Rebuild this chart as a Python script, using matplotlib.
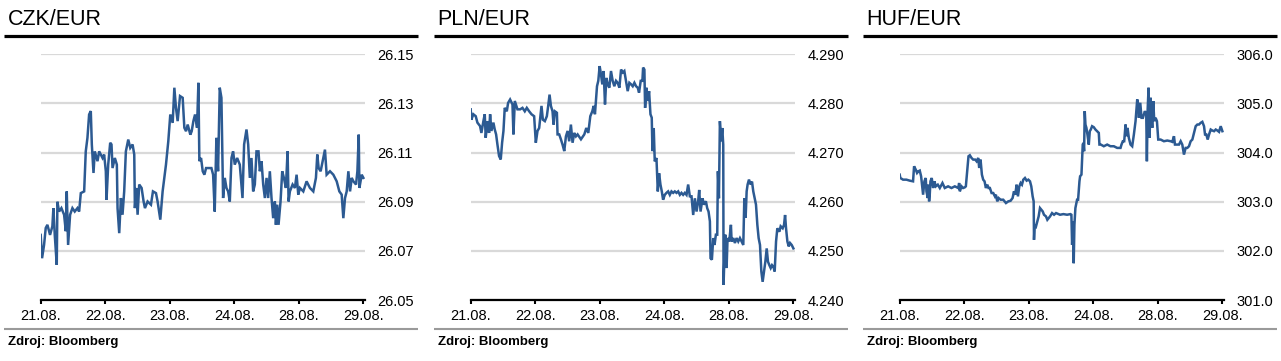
import matplotlib
matplotlib.use('Agg')
import matplotlib.pyplot as plt
from matplotlib.lines import Line2D

plt.rcParams['font.family'] = ['Liberation Sans', 'DejaVu Sans']

# ---------------- data ----------------
dates = ['21.08.', '22.08.', '23.08.', '24.08.', '28.08.', '29.08.']
titles = ['CZK/EUR', 'PLN/EUR', 'HUF/EUR']
source = 'Zdroj: Bloomberg'

czk_ticks = [26.05, 26.07, 26.09, 26.11, 26.13, 26.15]
pln_ticks = [4.240, 4.250, 4.260, 4.270, 4.280, 4.290]
huf_ticks = [301.0, 302.0, 303.0, 304.0, 305.0, 306.0]

# time in trading-day positions (0 = 21.08., 5 = 29.08.)
czk_t = [0.000, 0.021, 0.052, 0.078, 0.104, 0.145, 0.181, 0.197, 0.218, 0.249, 0.259, 0.285,
         0.321, 0.363, 0.389, 0.404, 0.425, 0.456, 0.492, 0.528, 0.570, 0.596, 0.622, 0.674,
         0.699, 0.725, 0.751, 0.777, 0.793, 0.819, 0.839, 0.881, 0.907, 0.959, 0.984, 1.010,
         1.021, 1.047, 1.078, 1.098, 1.114, 1.150, 1.181, 1.192, 1.218, 1.244, 1.269, 1.295,
         1.321, 1.358, 1.389, 1.425, 1.451, 1.461, 1.482, 1.503, 1.528, 1.565, 1.596, 1.617,
         1.658, 1.710, 1.741, 1.788, 1.813, 1.855, 1.891, 1.943, 1.979, 2.010, 2.047, 2.073,
         2.098, 2.124, 2.161, 2.202, 2.228, 2.254, 2.280, 2.321, 2.342, 2.368, 2.394, 2.425,
         2.446, 2.461, 2.487, 2.513, 2.539, 2.565, 2.596, 2.648, 2.674, 2.699, 2.725, 2.751,
         2.777, 2.803, 2.829, 2.855, 2.881, 2.907, 2.933, 2.959, 2.984, 3.010, 3.047, 3.088,
         3.130, 3.155, 3.192, 3.218, 3.244, 3.269, 3.295, 3.321, 3.347, 3.378, 3.399, 3.425,
         3.451, 3.477, 3.503, 3.528, 3.554, 3.580, 3.606, 3.632, 3.648, 3.668, 3.689, 3.720,
         3.746, 3.772, 3.803, 3.829, 3.845, 3.865, 3.907, 3.943, 3.969, 3.995, 4.021, 4.073,
         4.124, 4.176, 4.228, 4.269, 4.290, 4.311, 4.342, 4.383, 4.409, 4.435, 4.487, 4.539,
         4.591, 4.632, 4.668, 4.694, 4.720, 4.746, 4.772, 4.798, 4.824, 4.850, 4.891, 4.912,
         4.933, 4.943, 4.979, 5.005]
czk_v = [26.0765, 26.0670, 26.0724, 26.0793, 26.0806, 26.0765, 26.0800, 26.0874, 26.0765, 26.0643,
         26.0900, 26.0860, 26.0874, 26.0847, 26.0780, 26.0942, 26.0724, 26.0847, 26.0874, 26.0860,
         26.0874, 26.0860, 26.0935, 26.0942, 26.1105, 26.1160, 26.1255, 26.1269, 26.1133, 26.1017,
         26.1105, 26.1065, 26.1105, 26.1078, 26.1092, 26.1024, 26.0908, 26.1051, 26.1140, 26.1133,
         26.1037, 26.1078, 26.1051, 26.0874, 26.0772, 26.0915, 26.0847, 26.0942, 26.1105, 26.1153,
         26.1119, 26.1133, 26.1092, 26.0874, 26.0956, 26.0847, 26.0970, 26.0956, 26.0901, 26.0874,
         26.0901, 26.0888, 26.0942, 26.0935, 26.0901, 26.0827, 26.0942, 26.1051, 26.1146, 26.1255,
         26.1221, 26.1364, 26.1282, 26.1228, 26.1330, 26.1323, 26.1201, 26.1187, 26.1214, 26.1173,
         26.1187, 26.1228, 26.1255, 26.1201, 26.1384, 26.1065, 26.1078, 26.1024, 26.1010, 26.1037,
         26.1037, 26.1037, 26.1010, 26.0860, 26.1160, 26.1024, 26.1364, 26.1323, 26.0915, 26.0997,
         26.0956, 26.0942, 26.0901, 26.1078, 26.1105, 26.1051, 26.1078, 26.1051, 26.0915, 26.1133,
         26.1194, 26.1133, 26.0997, 26.1078, 26.0942, 26.0970, 26.1105, 26.1105, 26.1024, 26.1065,
         26.0970, 26.0915, 26.0997, 26.0915, 26.1024, 26.0915, 26.0833, 26.0901, 26.0806, 26.0888,
         26.0806, 26.0901, 26.1024, 26.0997, 26.0956, 26.1105, 26.0901, 26.0942, 26.0970, 26.0956,
         26.1010, 26.0929, 26.0956, 26.0942, 26.0983, 26.0956, 26.0942, 26.0997, 26.1092, 26.1037,
         26.1024, 26.1078, 26.1112, 26.1010, 26.1024, 26.1010, 26.0983, 26.0942, 26.0929, 26.0833,
         26.0915, 26.0942, 26.1024, 26.0942, 26.0997, 26.0983, 26.0970, 26.1024, 26.1173, 26.0956,
         26.1010, 26.0997]

pln_t = [0.000, 0.010, 0.041, 0.078, 0.104, 0.145, 0.166, 0.197, 0.218, 0.233, 0.259, 0.285,
         0.301, 0.321, 0.352, 0.373, 0.394, 0.415, 0.440, 0.466, 0.487, 0.508, 0.528, 0.560,
         0.580, 0.611, 0.648, 0.663, 0.684, 0.725, 0.767, 0.803, 0.839, 0.870, 0.907, 0.943,
         0.984, 1.010, 1.036, 1.062, 1.098, 1.119, 1.150, 1.181, 1.202, 1.223, 1.244, 1.269,
         1.285, 1.306, 1.337, 1.347, 1.373, 1.399, 1.425, 1.451, 1.477, 1.503, 1.528, 1.554,
         1.580, 1.606, 1.632, 1.658, 1.710, 1.762, 1.793, 1.824, 1.855, 1.886, 1.907, 1.927,
         1.959, 1.979, 2.000, 2.021, 2.041, 2.062, 2.083, 2.104, 2.124, 2.150, 2.176, 2.202,
         2.228, 2.254, 2.280, 2.306, 2.332, 2.358, 2.383, 2.409, 2.435, 2.461, 2.487, 2.513,
         2.539, 2.565, 2.591, 2.611, 2.637, 2.663, 2.674, 2.694, 2.705, 2.725, 2.746, 2.767,
         2.788, 2.808, 2.819, 2.839, 2.855, 2.881, 2.902, 2.922, 2.943, 2.964, 2.984, 3.010,
         3.036, 3.062, 3.088, 3.114, 3.140, 3.166, 3.192, 3.218, 3.244, 3.269, 3.295, 3.321,
         3.347, 3.373, 3.399, 3.425, 3.451, 3.477, 3.503, 3.528, 3.544, 3.565, 3.596, 3.617,
         3.648, 3.668, 3.689, 3.710, 3.720, 3.741, 3.762, 3.782, 3.803, 3.824, 3.834, 3.850,
         3.865, 3.886, 3.902, 3.917, 3.922, 3.938, 3.948, 3.969, 3.984, 4.010, 4.036, 4.047,
         4.073, 4.098, 4.124, 4.150, 4.176, 4.202, 4.228, 4.244, 4.264, 4.280, 4.295, 4.316,
         4.342, 4.363, 4.383, 4.404, 4.425, 4.446, 4.466, 4.487, 4.508, 4.528, 4.549, 4.570,
         4.591, 4.611, 4.632, 4.653, 4.674, 4.694, 4.715, 4.736, 4.756, 4.788, 4.808, 4.839,
         4.860, 4.876, 4.891, 4.912, 4.933, 4.953, 4.979, 5.005]
pln_v = [4.2788, 4.2767, 4.2778, 4.2774, 4.2761, 4.2754, 4.2740, 4.2764, 4.2778, 4.2730, 4.2764, 4.2740,
         4.2778, 4.2744, 4.2761, 4.2747, 4.2737, 4.2716, 4.2693, 4.2686, 4.2720, 4.2744, 4.2791, 4.2784,
         4.2801, 4.2808, 4.2798, 4.2737, 4.2805, 4.2788, 4.2788, 4.2791, 4.2784, 4.2791, 4.2784, 4.2778,
         4.2774, 4.2720, 4.2744, 4.2750, 4.2795, 4.2767, 4.2764, 4.2774, 4.2795, 4.2818, 4.2795, 4.2784,
         4.2757, 4.2784, 4.2781, 4.2737, 4.2737, 4.2727, 4.2716, 4.2703, 4.2733, 4.2744, 4.2723, 4.2757,
         4.2720, 4.2740, 4.2733, 4.2737, 4.2727, 4.2737, 4.2750, 4.2740, 4.2774, 4.2784, 4.2795, 4.2778,
         4.2835, 4.2846, 4.2876, 4.2859, 4.2839, 4.2866, 4.2798, 4.2852, 4.2839, 4.2832, 4.2866, 4.2846,
         4.2835, 4.2846, 4.2842, 4.2832, 4.2869, 4.2863, 4.2866, 4.2846, 4.2825, 4.2842, 4.2839, 4.2835,
         4.2842, 4.2835, 4.2832, 4.2822, 4.2846, 4.2846, 4.2873, 4.2869, 4.2791, 4.2832, 4.2805, 4.2825,
         4.2778, 4.2771, 4.2703, 4.2750, 4.2682, 4.2689, 4.2621, 4.2658, 4.2635, 4.2621, 4.2604, 4.2614,
         4.2618, 4.2621, 4.2614, 4.2621, 4.2618, 4.2621, 4.2618, 4.2621, 4.2614, 4.2618, 4.2614, 4.2618,
         4.2614, 4.2635, 4.2611, 4.2611, 4.2573, 4.2607, 4.2580, 4.2601, 4.2624, 4.2580, 4.2607, 4.2594,
         4.2601, 4.2587, 4.2580, 4.2560, 4.2485, 4.2482, 4.2526, 4.2512, 4.2533, 4.2533, 4.2662, 4.2607,
         4.2764, 4.2723, 4.2750, 4.2716, 4.2431, 4.2499, 4.2533, 4.2465, 4.2526, 4.2519, 4.2553, 4.2519,
         4.2526, 4.2516, 4.2526, 4.2519, 4.2526, 4.2519, 4.2512, 4.2607, 4.2567, 4.2621, 4.2635, 4.2645,
         4.2635, 4.2641, 4.2621, 4.2607, 4.2594, 4.2553, 4.2526, 4.2512, 4.2458, 4.2437, 4.2458, 4.2478,
         4.2505, 4.2478, 4.2471, 4.2465, 4.2471, 4.2468, 4.2458, 4.2519, 4.2546, 4.2539, 4.2550, 4.2546,
         4.2553, 4.2573, 4.2546, 4.2519, 4.2509, 4.2516, 4.2512, 4.2505]

huf_t = [0.000, 0.010, 0.052, 0.104, 0.155, 0.207, 0.223, 0.249, 0.269, 0.290, 0.311, 0.332,
         0.352, 0.363, 0.383, 0.404, 0.415, 0.435, 0.446, 0.456, 0.466, 0.477, 0.497, 0.518,
         0.539, 0.560, 0.591, 0.622, 0.663, 0.699, 0.751, 0.803, 0.855, 0.907, 0.922, 0.933,
         0.959, 0.984, 1.010, 1.026, 1.047, 1.067, 1.088, 1.114, 1.140, 1.171, 1.192, 1.218,
         1.233, 1.254, 1.275, 1.295, 1.316, 1.337, 1.358, 1.378, 1.399, 1.425, 1.451, 1.477,
         1.492, 1.513, 1.534, 1.565, 1.606, 1.648, 1.684, 1.720, 1.751, 1.772, 1.793, 1.813,
         1.834, 1.855, 1.876, 1.896, 1.917, 1.943, 1.969, 1.995, 2.021, 2.041, 2.062, 2.078,
         2.083, 2.093, 2.114, 2.135, 2.155, 2.176, 2.197, 2.218, 2.238, 2.269, 2.290, 2.311,
         2.332, 2.363, 2.394, 2.425, 2.461, 2.487, 2.539, 2.596, 2.648, 2.663, 2.674, 2.689,
         2.699, 2.710, 2.725, 2.736, 2.751, 2.767, 2.788, 2.798, 2.819, 2.839, 2.850, 2.860,
         2.870, 2.881, 2.896, 2.912, 2.933, 2.948, 2.964, 2.984, 3.010, 3.036, 3.062, 3.088,
         3.098, 3.119, 3.166, 3.218, 3.269, 3.321, 3.373, 3.425, 3.440, 3.461, 3.482, 3.503,
         3.518, 3.534, 3.554, 3.580, 3.606, 3.632, 3.658, 3.684, 3.699, 3.710, 3.731, 3.751,
         3.772, 3.788, 3.803, 3.824, 3.834, 3.845, 3.860, 3.876, 3.891, 3.907, 3.917, 3.933,
         3.948, 3.969, 3.990, 4.010, 4.047, 4.098, 4.150, 4.202, 4.228, 4.254, 4.269, 4.306,
         4.332, 4.358, 4.383, 4.409, 4.435, 4.461, 4.487, 4.513, 4.539, 4.565, 4.591, 4.617,
         4.642, 4.668, 4.694, 4.720, 4.736, 4.756, 4.777, 4.798, 4.824, 4.850, 4.876, 4.902,
         4.927, 4.953, 4.979, 5.005]
huf_v = [303.551, 303.483, 303.449, 303.449, 303.429, 303.415, 303.721, 303.653, 303.585, 303.619,
         303.633, 303.517, 303.279, 303.143, 303.415, 303.483, 303.211, 303.075, 303.347, 303.007,
         303.143, 303.415, 303.483, 303.279, 303.415, 303.313, 303.347, 303.279, 303.381, 303.279,
         303.313, 303.279, 303.313, 303.279, 303.381, 303.211, 303.313, 303.279, 303.293, 303.313,
         303.619, 303.925, 303.946, 303.891, 303.857, 303.857, 303.823, 303.891, 303.687, 303.857,
         303.551, 303.449, 303.415, 303.279, 303.347, 303.279, 303.279, 303.177, 303.177, 303.109,
         303.143, 303.007, 303.075, 303.041, 303.041, 302.973, 303.007, 303.020, 303.075, 303.211,
         303.143, 303.347, 303.109, 303.313, 303.381, 303.347, 303.449, 303.483, 303.429, 303.449,
         303.415, 303.313, 303.109, 303.007, 302.224, 302.531, 302.497, 302.599, 302.701, 302.871,
         302.837, 302.803, 302.735, 302.701, 302.633, 302.667, 302.701, 302.769, 302.735, 302.769,
         302.748, 302.735, 302.748, 302.735, 302.748, 302.735, 302.122, 302.599, 301.748, 302.531,
         302.871, 302.939, 303.041, 303.041, 303.415, 303.517, 303.551, 304.163, 304.197, 304.027,
         304.844, 304.571, 304.503, 304.367, 304.163, 304.435, 304.469, 304.537, 304.517, 304.469,
         304.435, 304.401, 304.163, 304.163, 304.129, 304.163, 304.129, 304.129, 304.095, 304.095,
         304.163, 304.231, 304.231, 304.571, 304.333, 304.503, 304.299, 304.163, 304.129, 304.367,
         304.639, 305.082, 304.980, 304.707, 305.014, 304.707, 304.707, 304.776, 304.844, 304.776,
         303.823, 304.844, 305.320, 304.299, 305.116, 304.707, 304.503, 305.048, 304.639, 304.707,
         304.639, 304.265, 304.265, 304.231, 304.245, 304.231, 304.218, 304.333, 304.163, 304.163,
         304.163, 304.231, 304.163, 303.959, 304.095, 304.095, 304.129, 304.231, 304.265, 304.401,
         304.537, 304.571, 304.571, 304.605, 304.626, 304.537, 304.367, 304.367, 304.265, 304.367,
         304.469, 304.449, 304.435, 304.469, 304.449, 304.422, 304.537, 304.435]

# ---------------- layout ----------------
W, H = 1281, 361
fig = plt.figure(figsize=(W / 100, H / 100), dpi=100)
fig.patch.set_facecolor('white')

line_color = '#2c5a92'
panels = [
    (titles[0], czk_t, czk_v, czk_ticks, '{:.2f}', 0),
    (titles[1], pln_t, pln_v, pln_ticks, '{:.3f}', 430),
    (titles[2], huf_t, huf_v, huf_ticks, '{:.1f}', 859),
]

def fx(px):
    return px / W

def fy(py):
    return 1 - py / H

for title, t, v, ticks, fmt, off in panels:
    left, right = 40.7 + off, 365 + off
    top, bottom = 54.3, 300
    ax = fig.add_axes([fx(left), fy(bottom), (right - left) / W, (bottom - top) / H])
    ax.plot(t, v, color=line_color, lw=1.8, solid_joinstyle='miter', zorder=3)
    ax.set_xlim(0, 5.03)
    ax.set_ylim(ticks[0], ticks[-1])
    ax.set_xticks(range(len(dates)))
    ax.set_xticklabels(dates)
    ax.set_yticks(ticks)
    ax.set_yticklabels([fmt.format(x) for x in ticks])
    ax.yaxis.tick_right()
    ax.grid(axis='y', color='#d9d9d9', lw=1.6, zorder=0)
    ax.set_axisbelow(True)
    for s in ('top', 'left', 'right'):
        ax.spines[s].set_visible(False)
    ax.spines['bottom'].set_linewidth(1.6)
    ax.spines['bottom'].set_color('black')
    ax.spines['bottom'].set_zorder(4)
    ax.tick_params(axis='x', direction='out', length=3, width=1.5, color='black',
                   labelsize=10.5, pad=3.5, labelcolor='black')
    ax.tick_params(axis='y', length=0, labelsize=10.5, pad=9, labelcolor='black')
    ax.set_facecolor('none')

    # header / footer decoration
    fig.add_artist(Line2D([fx(4 + off), fx(418 + off)], [fy(36), fy(36)],
                          color='black', lw=2.3, solid_capstyle='butt'))
    fig.add_artist(Line2D([fx(4 + off), fx(418 + off)], [fy(329.3), fy(329.3)],
                          color='#9a9a9a', lw=1.5, solid_capstyle='butt'))
    fig.text(fx(7.5 + off), fy(25), title, fontsize=15.5, va='baseline', ha='left', color='black')
    fig.text(fx(8 + off), fy(341.5), source, fontsize=9.5, fontweight='bold',
             va='center', ha='left', color='black')

fig.savefig('out.png', dpi=100, facecolor='white')
